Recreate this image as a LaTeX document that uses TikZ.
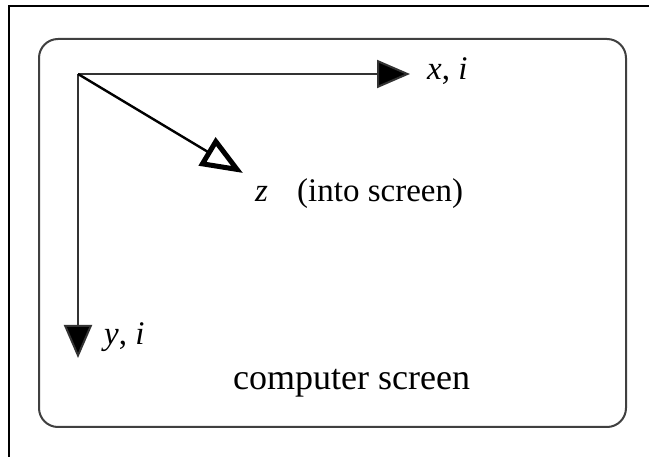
\documentclass[tikz,border=0pt]{standalone}
\usepackage{fontspec}
\setmainfont{Liberation Serif}
\usetikzlibrary{arrows.meta}
\begin{document}
\begin{tikzpicture}[x=1pt,y=-1pt,
  frame/.style={line width=2pt,black},
  screenbox/.style={line width=2pt,draw=black!75,rounded corners=19pt},
  axis/.style={line width=2pt,draw=black!80,-{Triangle[length=33pt,width=28pt,fill=black]}},
  zaxis/.style={line width=2.4pt,draw=black,-{Triangle[open,length=42pt,width=32pt,line width=5pt,fill=white]}},
  lab/.style={inner sep=0pt,anchor=base west,font=\fontsize{33}{36}\selectfont},
  biglab/.style={inner sep=0pt,anchor=base west,font=\fontsize{36}{40}\selectfont}]
\useasboundingbox (0,0) rectangle (649,457);
\fill[white] (0,0) rectangle (649,457);
\draw[frame] (9,457) -- (9,6) -- (649,6);
\draw[screenbox] (39,39) rectangle (626,427);
\coordinate (O) at (78,74);
\coordinate (xt) at (410,74);
\coordinate (yt) at (78,358);
\coordinate (zt) at (243,173);
\draw[axis] (O) -- (xt);
\draw[axis] (O) -- (yt);
\draw[zaxis] (O) -- (zt);
\node[lab] (xl) at (427,80) {\textit{x}, \textit{i}};
\node[lab] (yl) at (104,345) {\textit{y}, \textit{i}};
\node[lab] (zl) at (255,202) {\textit{z}};
\node[lab] (into) at (297,202) {(into screen)};
\node[biglab] (cs) at (233,390) {computer screen};
\end{tikzpicture}
\end{document}
